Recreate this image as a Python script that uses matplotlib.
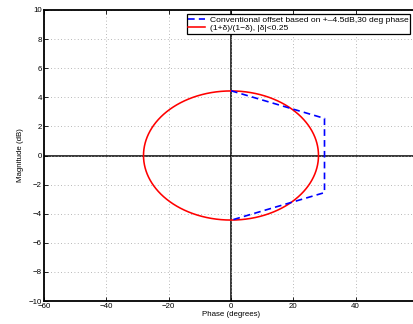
''' Conventional offset vs uncertainty disk (magnitude/phase plane)

'''

import numpy as np
import matplotlib
matplotlib.use('Agg')
import matplotlib.pyplot as plt


# SET UP
#*************

plt.rcParams['font.family'] = ['Liberation Sans', 'DejaVu Sans']
plt.rcParams['font.size'] = 5.7

# conventional offset (phase deg, magnitude dB)
offset_phase = [0, 30, 30, 0]
offset_mag = [4.45, 2.55, -2.55, -4.45]

# multiplicative uncertainty bound
delta_max = 0.25
theta = np.linspace(0, 2*np.pi, 361)

xticks = [-60, -40, -20, 0, 20, 40, 60]
yticks = [-10, -8, -6, -4, -2, 0, 2, 4, 6, 8, 10]

#(1+d)/(1-d) on |d| = delta_max
d = delta_max*np.exp(1j*theta)
ratio = (1 + d)/(1 - d)
disk_phase = np.degrees(np.angle(ratio))
disk_mag = 20*np.log10(np.abs(ratio))

#PLOT
#*************
fig = plt.figure(figsize=(4.14, 3.24), dpi=100)
ax = fig.add_axes([44/414, 1 - 301/324, 374/414, 291/324])

ax.axhline(0, color='k', lw=1.1, zorder=1)
ax.axvline(0, color='k', lw=1.1, zorder=1)
ax.plot(offset_phase, offset_mag, '--', color='b', lw=1.2, dashes=(4, 2.5),
        label='Conventional offset based on +\u20134.5dB,30 deg phase', zorder=3)
ax.plot(disk_phase, disk_mag, '-', color='r', lw=1.15,
        label='(1+\u03b4)/(1\u2212\u03b4), |\u03b4|<0.25', zorder=2)

ax.set_xlim([-60, 60])
ax.set_ylim([-10, 10])
ax.set_xticks(xticks)
ax.set_yticks(yticks)
ax.grid(True, linestyle=(0, (1, 3)), color='#a0a0a0', lw=0.6)
ax.tick_params(direction='in', top=True, right=True, length=3, width=0.6, pad=1.5)
for s in ax.spines.values():
    s.set_linewidth(1.3)

ax.set_xlabel('Phase (degrees)', labelpad=1)
ax.set_ylabel('Magnitude (dB)', labelpad=3)

leg = ax.legend(loc='upper right', bbox_to_anchor=(366/374, 1 - 4/291),
                fancybox=False, edgecolor='k', framealpha=1, borderpad=0.2,
                handlelength=2.0, handletextpad=0.5, labelspacing=0.1,
                borderaxespad=0, fontsize=6.1)
leg.get_frame().set_linewidth(0.9)

plt.savefig('out.png', dpi=100)
